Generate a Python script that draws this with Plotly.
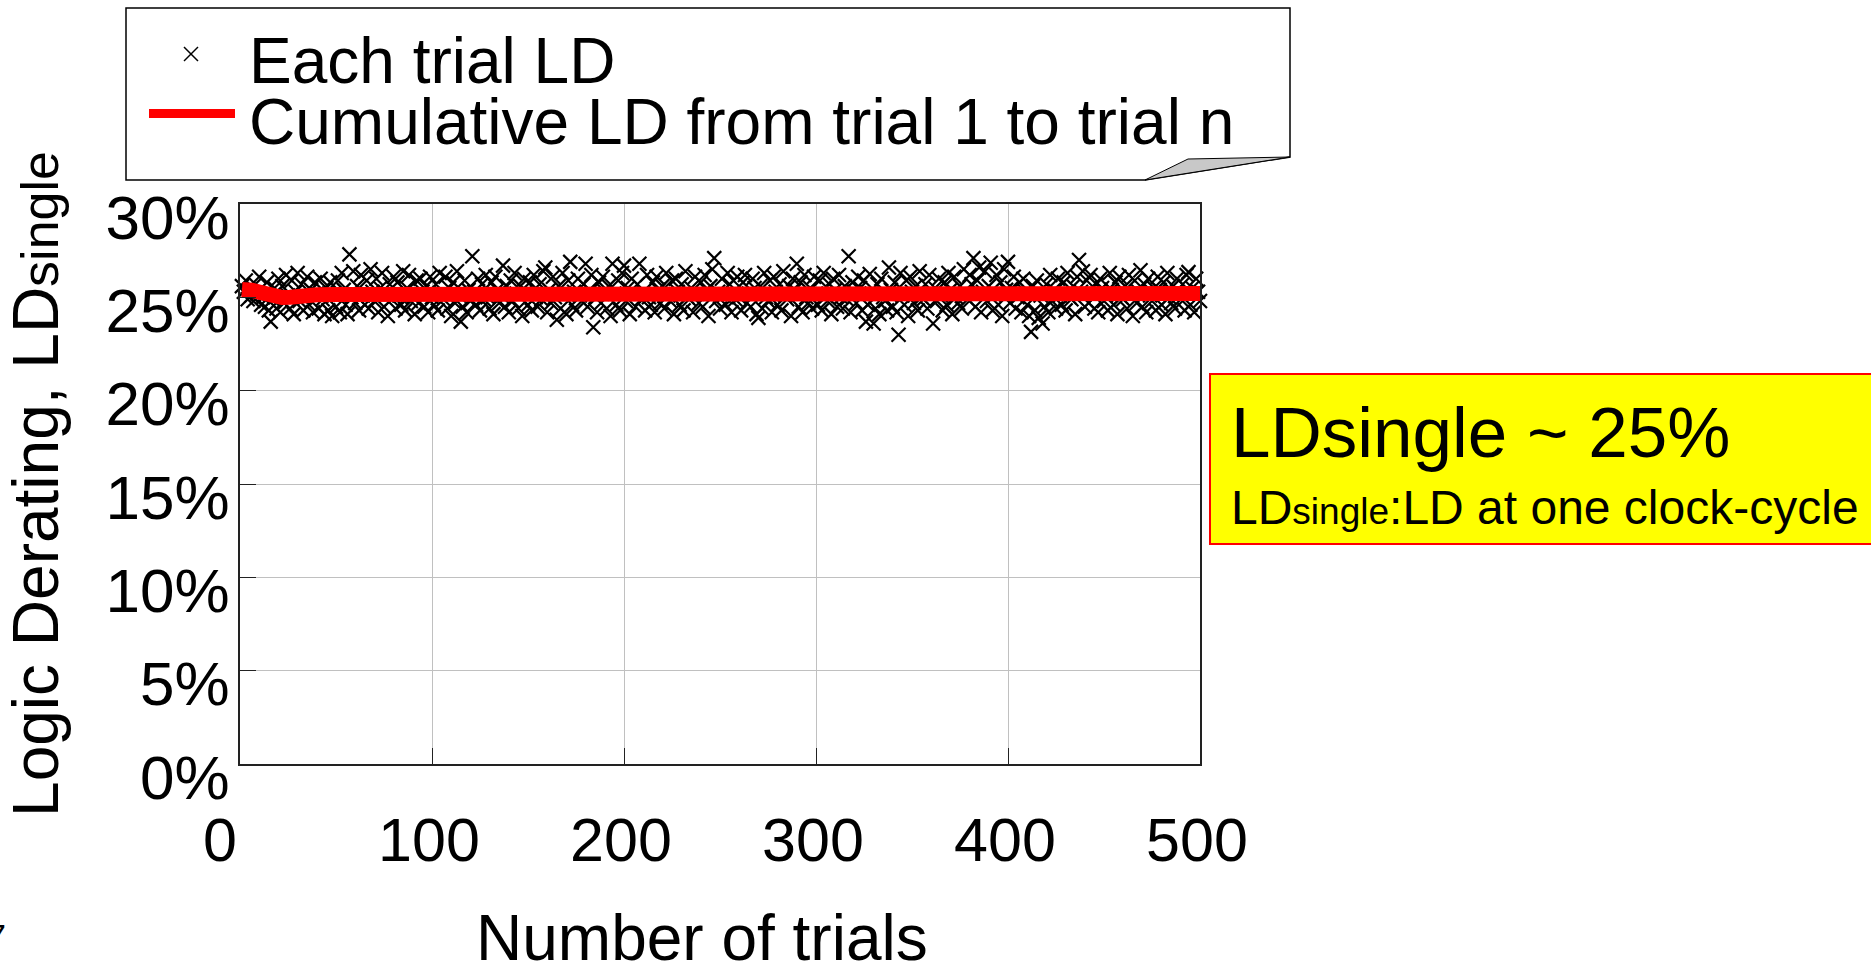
import plotly.graph_objects as go

# ---------------- data ----------------
each_trial_ld = [
    25.6, 25.3, 25.9, 24.9, 25.4, 25.1, 24.8, 25.7, 25.2, 26.1,
    24.6, 25.0, 24.5, 25.8, 24.3, 23.7, 24.9, 25.5, 24.4, 26.0,
    24.2, 25.6, 24.7, 26.2, 25.1, 24.4, 25.9, 24.1, 25.3, 26.3,
    24.8, 25.7, 24.3, 25.0, 26.1, 24.6, 25.4, 24.2, 25.8, 25.2,
    24.4, 26.0, 24.9, 24.1, 25.5, 24.3, 25.8, 24.0, 25.1, 24.5,
    25.9, 24.2, 26.3, 25.4, 24.6, 24.1, 27.3, 25.0, 26.4, 24.7,
    25.6, 24.3, 26.2, 25.1, 24.6, 25.9, 24.4, 26.5, 25.3, 24.8,
    26.0, 24.2, 25.5, 26.3, 24.5, 25.2, 24.0, 25.7, 24.9, 26.1,
    24.4, 25.8, 25.1, 24.6, 26.4, 24.3, 25.5, 26.2, 24.8, 25.0,
    24.1, 25.9, 24.7, 26.0, 25.3, 24.5, 25.6, 24.2, 26.1, 25.0,
    24.6, 25.7, 24.3, 26.3, 25.2, 24.9, 26.1, 24.4, 25.5, 24.0,
    25.8, 24.7, 26.4, 25.1, 23.7, 24.5, 25.9, 24.2, 25.4, 24.8,
    27.2, 25.3, 24.6, 26.0, 24.3, 25.7, 24.9, 26.2, 25.0, 24.4,
    25.8, 24.1, 26.1, 25.4, 24.7, 25.1, 26.7, 24.5, 25.6, 24.2,
    25.9, 24.8, 26.3, 25.2, 24.4, 25.6, 24.0, 26.0, 25.3, 24.6,
    25.8, 24.3, 26.2, 25.0, 24.5, 25.7, 24.9, 26.4, 26.6, 24.2,
    25.4, 24.7, 26.1, 25.0, 23.8, 25.6, 24.4, 26.3, 25.2, 24.1,
    25.9, 26.9, 24.6, 25.3, 24.3, 26.0, 25.1, 24.8, 25.7, 26.8,
    24.5, 25.4, 26.2, 23.4, 25.0, 24.2, 25.8, 24.7, 26.1, 25.3,
    24.4, 25.6, 24.0, 26.8, 25.2, 24.6, 25.9, 24.3, 26.3, 26.7,
    24.8, 25.5, 24.1, 26.0, 25.2, 24.5, 25.7, 26.8, 24.9, 25.3,
    24.3, 26.2, 25.0, 24.6, 25.8, 24.2, 26.1, 25.4, 24.7, 25.6,
    24.4, 26.3, 25.1, 24.8, 25.9, 24.1, 26.0, 25.3, 24.6, 25.7,
    24.3, 26.4, 25.0, 24.9, 25.5, 24.2, 26.1, 25.2, 24.7, 25.8,
    24.5, 26.2, 25.4, 24.0, 25.6, 26.5, 27.1, 24.8, 25.3, 24.4,
    26.0, 25.1, 24.6, 26.3, 25.7, 24.2, 25.9, 24.9, 26.1, 25.0,
    24.3, 25.8, 26.2, 24.7, 25.2, 24.5, 26.0, 25.5, 24.1, 23.9,
    25.6, 24.4, 26.3, 25.0, 24.8, 25.9, 24.2, 26.1, 25.3, 24.6,
    25.7, 24.3, 26.4, 25.1, 24.9, 25.6, 24.0, 26.0, 25.4, 26.8,
    24.5, 25.8, 24.2, 26.2, 25.0, 24.7, 25.5, 24.4, 26.1, 25.2,
    24.6, 25.9, 24.3, 26.3, 25.1, 24.8, 25.7, 24.1, 26.0, 25.4,
    24.5, 26.2, 25.0, 24.4, 25.6, 24.9, 27.2, 24.2, 25.8, 25.3,
    24.7, 26.1, 25.5, 24.3, 25.9, 23.7, 24.6, 26.25, 25.2, 23.6,
    24.4, 25.7, 24.1, 26.0, 25.0, 24.8, 24.3, 26.6, 25.4, 24.5,
    25.8, 24.2, 23.0, 26.3, 25.1, 24.6, 25.9, 24.0, 26.1, 25.3,
    24.7, 25.6, 24.3, 26.4, 25.0, 24.9, 25.7, 24.4, 26.2, 25.2,
    23.6, 25.5, 24.8, 26.0, 25.1, 24.3, 25.8, 24.6, 26.3, 25.4,
    24.1, 26.1, 25.0, 24.7, 25.6, 24.4, 26.5, 25.2, 24.9, 26.2,
    25.7, 27.1, 24.5, 25.9, 26.6, 24.2, 25.3, 26.4, 24.8, 25.6,
    26.85, 24.3, 25.1, 26.2, 24.6, 25.8, 24.0, 26.5, 25.4, 26.9,
    24.7, 25.5, 26.1, 24.4, 25.0, 25.8, 24.2, 26.0, 25.3, 24.6,
    24.0, 23.15, 25.6, 24.3, 25.9, 23.9, 25.1, 23.6, 24.5, 25.7,
    24.2, 26.2, 24.8, 25.4, 24.4, 26.0, 25.1, 24.6, 25.8, 24.3,
    26.3, 25.0, 24.9, 25.6, 24.1, 26.1, 27.0, 25.3, 26.4, 24.5,
    25.9, 24.7, 26.2, 25.2, 24.4, 25.7, 24.2, 26.0, 25.5, 24.8,
    25.1, 24.3, 26.3, 25.4, 24.6, 25.8, 24.1, 26.1, 25.0, 24.9,
    25.6, 24.4, 26.2, 25.2, 24.0, 25.9, 24.7, 25.3, 26.45, 24.5,
    25.7, 24.2, 26.0, 25.1, 24.8, 25.5, 24.3, 26.1, 25.4, 24.6,
    25.8, 24.1, 26.3, 25.0, 24.7, 25.6, 24.4, 26.0, 25.2, 24.9,
    25.7, 24.3, 26.2, 26.35, 24.6, 25.5, 24.2, 26.0, 25.3, 24.8,
]
trials = list(range(1, len(each_trial_ld) + 1))

cum_trials = [1, 3, 6, 10, 14, 18, 22, 26, 30, 35, 40, 50, 70, 100,
              150, 200, 250, 300, 350, 400, 450, 500]
cum_ld = [25.42, 25.45, 25.38, 25.28, 25.14, 25.04, 24.99, 25.01, 25.08, 25.12,
          25.14, 25.15, 25.15, 25.15, 25.15, 25.16, 25.17, 25.17, 25.17, 25.18,
          25.19, 25.2]

x_ticks = [0, 100, 200, 300, 400, 500]
x_tick_text = ["0&nbsp;&nbsp;", "100", "200", "300", "400", "500"]
y_ticks = [0, 5, 10, 15, 20, 25, 30]
y_tick_text = ["0%", "5%", "10%", "15%", "20%", "25%", "30%"]

FONT = "Liberation Sans, Arial, sans-serif"

# plot area in pixels
L, R, T, B = 240, 1200, 204, 764
W, H = 1871, 964


def px(x):
    return (x - L) / (R - L)


def py(y):
    return (B - y) / (B - T)


fig = go.Figure()
fig.add_trace(go.Scatter(
    x=trials, y=each_trial_ld, mode="markers", name="Each trial LD",
    marker=dict(symbol="x-thin", size=14, color="black",
                line=dict(color="black", width=2.2)),
    cliponaxis=False, showlegend=False))
fig.add_trace(go.Scatter(
    x=cum_trials, y=cum_ld, mode="lines", name="Cumulative LD from trial 1 to trial n",
    line=dict(color="#ff0000", width=15), cliponaxis=False, showlegend=False))

shapes = []
annotations = []

# legend box with curled corner
path = (f"M {px(126)},{py(8)} L {px(1290)},{py(8)} L {px(1290)},{py(157)} "
        f"L {px(1145)},{py(180)} L {px(126)},{py(180)} Z")
shapes.append(dict(type="path", xref="paper", yref="paper", path=path,
                   line=dict(color="black", width=1.5), fillcolor="white", layer="above"))
curl = (f"M {px(1145)},{py(180)} L {px(1188)},{py(159)} L {px(1290)},{py(157)} Z")
shapes.append(dict(type="path", xref="paper", yref="paper", path=curl,
                   line=dict(color="black", width=1), fillcolor="#c8c8c8", layer="above"))
# legend symbols
for (x0, y0, x1, y1) in [(184, 47, 198, 61), (184, 61, 198, 47)]:
    shapes.append(dict(type="line", xref="paper", yref="paper",
                       x0=px(x0), y0=py(y0), x1=px(x1), y1=py(y1),
                       line=dict(color="black", width=1.5), layer="above"))
shapes.append(dict(type="line", xref="paper", yref="paper",
                   x0=px(149), y0=py(113.5), x1=px(235), y1=py(113.5),
                   line=dict(color="#ff0000", width=9), layer="above"))
annotations.append(dict(xref="paper", yref="paper", x=px(247), y=py(61),
                        xanchor="left", yanchor="middle", showarrow=False,
                        text="Each trial LD", font=dict(family=FONT, size=64, color="black")))
annotations.append(dict(xref="paper", yref="paper", x=px(247), y=py(122),
                        xanchor="left", yanchor="middle", showarrow=False,
                        text="Cumulative LD from trial 1 to trial n",
                        font=dict(family=FONT, size=64, color="black")))

# yellow callout box
shapes.append(dict(type="rect", xref="paper", yref="paper",
                   x0=px(1210), x1=px(1900), y0=py(374), y1=py(544),
                   fillcolor="#ffff00", line=dict(color="#ff0000", width=2), layer="above"))
annotations.append(dict(xref="paper", yref="paper", x=px(1229), y=py(432),
                        xanchor="left", yanchor="middle", showarrow=False,
                        text="LDsingle ~ 25%", font=dict(family=FONT, size=71, color="black")))
annotations.append(dict(xref="paper", yref="paper", x=px(1229), y=py(507),
                        xanchor="left", yanchor="middle", showarrow=False,
                        text="LD<span style='font-size:37px'>single</span>:LD at one clock-cycle",
                        font=dict(family=FONT, size=48, color="black")))

# x axis title
annotations.append(dict(xref="paper", yref="paper", x=px(702), y=py(938),
                        xanchor="center", yanchor="middle", showarrow=False,
                        text="Number of trials", font=dict(family=FONT, size=64, color="black")))
# page number fragment (cut by the left edge)
annotations.append(dict(xref="paper", yref="paper", x=px(8), y=py(936),
                        xanchor="right", yanchor="middle", showarrow=False,
                        text="7", font=dict(family=FONT, size=34, color="black")))

fig.update_layout(
    width=W, height=H,
    margin=dict(l=L, r=W - R, t=T, b=H - B, pad=0),
    paper_bgcolor="white", plot_bgcolor="white",
    font=dict(family=FONT, color="black"),
    shapes=shapes, annotations=annotations,
    showlegend=False,
)
fig.update_xaxes(
    range=[0, 500], tickvals=x_ticks, ticktext=x_tick_text, showgrid=True,
    gridcolor="#c0c0c0", gridwidth=1,
    zeroline=False, showline=True, linecolor="#222222", linewidth=2, mirror=True,
    ticks="inside", ticklen=16, tickcolor="#222222", tickwidth=1,
    tickfont=dict(family=FONT, size=61, color="black"),
    ticklabelstandoff=22, ticklabelshift=-3,
)
fig.update_yaxes(
    range=[0, 30], tickvals=y_ticks, ticktext=y_tick_text, showgrid=True,
    gridcolor="#c0c0c0", gridwidth=1,
    zeroline=False, showline=True, linecolor="#222222", linewidth=2, mirror=True,
    ticks="inside", ticklen=16, tickcolor="#222222", tickwidth=1,
    tickfont=dict(family=FONT, size=62, color="black"),
    ticklabelstandoff=-4, ticklabelshift=13,
    title=dict(text="Logic Derating, LD<span style='font-size:52px'>single</span>",
               font=dict(family=FONT, size=64, color="black"), standoff=50),
)

fig.write_html(
    "out.html",
    config={"displayModeBar": False},
    post_script="document.body.style.margin='0';"
                "document.documentElement.style.overflow='hidden';"
                "document.body.style.overflow='hidden';",
)
